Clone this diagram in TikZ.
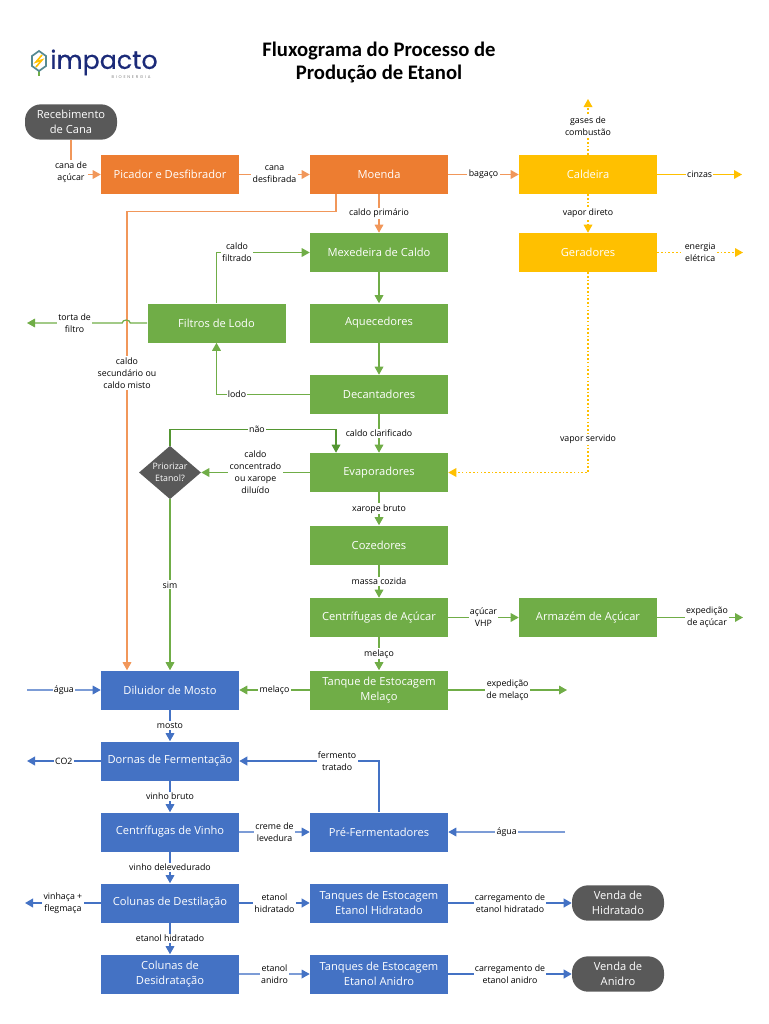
\documentclass[tikz,border=0pt]{standalone}
\usepackage{fontspec}
\setmainfont{Open Sans}
\newfontfamily\titlefont{Carlito}
\newfontfamily\logofont[FakeBold=0.5]{Poppins}
\newfontfamily\logosubfont[LetterSpace=45]{Poppins}
\usetikzlibrary{
    arrows.meta,
    positioning,
    shapes.geometric
}
\definecolor{caneorange}{RGB}{237,125,49}
\definecolor{steamyellow}{RGB}{255,192,0}
\definecolor{juicegreen}{RGB}{112,173,71}
\definecolor{wineblue}{RGB}{68,114,196}
\definecolor{darkgreen}{RGB}{84,150,50}
\definecolor{stategray}{RGB}{89,89,89}
\definecolor{logoblue}{RGB}{27,42,120}

\begin{document}
\begin{tikzpicture}[
    x=0.75pt, y=-0.75pt,
    every node/.style={font=\fontsize{6.6}{9}\selectfont},
    boxnode/.style={minimum width=103.5pt, minimum height=29.25pt, inner sep=0pt,
        align=center, text=white, font=\fontsize{8.35}{11.2}\selectfont},
    orangebox/.style={boxnode, fill=caneorange},
    yellowbox/.style={boxnode, fill=steamyellow},
    greenbox/.style={boxnode, fill=juicegreen},
    bluebox/.style={boxnode, fill=wineblue},
    pill/.style={boxnode, fill=stategray, rounded corners=12pt,
        minimum width=69pt, minimum height=26.5pt},
    lbl/.style={fill=white, inner sep=1pt, align=center, text=black},
    arrow/.style={-{Triangle[length=6pt, width=6.5pt]}, line width=0.9pt},
    orangeline/.style={arrow, caneorange!80!white},
    yellowline/.style={arrow, steamyellow},
    yellowdot/.style={arrow, steamyellow, dash pattern=on 1.2pt off 1.6pt},
    greenline/.style={arrow, juicegreen},
    blueline/.style={arrow, wineblue},
    bluelight/.style={-{Triangle[length=6pt, width=6.5pt, color=wineblue]}, line width=0.9pt, wineblue!70!white},
    bluethick/.style={arrow, wineblue, line width=1.3pt}
]
    \useasboundingbox (0,0) rectangle (768,1024);

    % Title and logo
    \node[font=\titlefont\bfseries\fontsize{15.5}{17.5}\selectfont, align=center] (title) at (379,62.5)
        {Fluxograma do Processo de\\Produção de Etanol};
    \draw[juicegreen, line width=1.1pt] (39,66) -- (39,76);
    \draw[wineblue!60!juicegreen, line width=1.3pt, fill=white]
        (39,51) -- (46,56) -- (46,66) -- (39,71) -- (32,66) -- (32,56) -- cycle;
    \draw[steamyellow, line width=1.2pt] (42,55) -- (36,62) -- (42,60) -- (36,67);
    \node[font=\logofont\fontsize{19}{19}\selectfont, text=logoblue, inner sep=0pt] (logo) at (104,62.5) {impacto};
    \node[font=\logosubfont\fontsize{3}{3}\selectfont, text=gray, inner sep=0pt] (logosub) at (131,77.5)
        {BIOENERGIA};

    % Cane preparation
    \node[pill] (receb) at (71,122) {Recebimento\\de Cana};
    \node[orangebox] (picador) at (170,174.5) {Picador e Desfibrador};
    \node[orangebox] (moenda) at (379,174.5) {Moenda};

    % Steam and power
    \node[yellowbox] (caldeira) at (588,174.5) {Caldeira};
    \node[yellowbox] (geradores) at (588,252.5) {Geradores};

    % Juice treatment and sugar
    \node[greenbox] (mexedeira) at (379,252.5) {Mexedeira de Caldo};
    \node[greenbox] (filtros) at (216.5,323) {Filtros de Lodo};
    \node[greenbox] (aquec) at (379,323) {Aquecedores};
    \node[greenbox] (decant) at (379,394.5) {Decantadores};
    \node[greenbox] (evap) at (379,472.5) {Evaporadores};
    \node[greenbox] (cozed) at (379,545) {Cozedores};
    \node[greenbox] (centacucar) at (379,617.5) {Centrífugas de Açúcar};
    \node[greenbox] (armazem) at (588,617.5) {Armazém de Açúcar};
    \node[greenbox] (tanquemel) at (379,690) {Tanque de Estocagem\\Melaço};
    \node[diamond, fill=stategray, text=white, inner sep=0pt, align=center,
        minimum width=46.5pt, minimum height=40pt, aspect=1.17] (prior) at (170,472.5)
        {Priorizar\\Etanol?};

    % Fermentation and distillation
    \node[bluebox] (diluidor) at (170,690) {Diluidor de Mosto};
    \node[bluebox] (dornas) at (170,761) {Dornas de Fermentação};
    \node[bluebox] (centvinho) at (170,832) {Centrífugas de Vinho};
    \node[bluebox] (prefer) at (379,832) {Pré-Fermentadores};
    \node[bluebox] (coldest) at (170,903) {Colunas de Destilação};
    \node[bluebox] (tanqhid) at (379,903) {Tanques de Estocagem\\Etanol Hidratado};
    \node[bluebox] (coldes) at (170,974) {Colunas de\\Desidratação};
    \node[bluebox] (tanqani) at (379,974) {Tanques de Estocagem\\Etanol Anidro};
    \node[pill] (vendahid) at (618,903) {Venda de\\Hidratado};
    \node[pill] (vendaani) at (618,974) {Venda de\\Anidro};

    % Free ends
    \coordinate (gasesend) at (588,99);
    \coordinate (cinzasend) at (742,174.5);
    \coordinate (energiaend) at (743,252.5);
    \coordinate (tortaend) at (27,323);
    \coordinate (expacuend) at (743,617.5);
    \coordinate (expmelend) at (567,690);
    \coordinate (aguaone) at (27,690);
    \coordinate (co2end) at (27,761);
    \coordinate (aguatwo) at (565,832);
    \coordinate (vinhaend) at (25,903);

    % Orange connectors
    \draw[orangeline] (receb.south) |- (picador.west)
        node[lbl, pos=0.5, yshift=2pt] (lcana) {cana de\\açúcar};
    \draw[orangeline] (picador) -- (moenda) node[lbl, midway] (ldesf) {cana\\desfibrada};
    \draw[orangeline] (moenda) -- (caldeira) node[lbl, midway] (lbag) {bagaço};
    \draw[orangeline] (moenda) -- (mexedeira) node[lbl, midway] (lprim) {caldo primário};
    \draw[orangeline] ([xshift=-32.25pt]moenda.south) -- ++(0,17) -| ([xshift=-32.25pt]diluidor.north)
        node[lbl, pos=0.676] (lsec) {caldo\\secundário ou\\caldo misto};

    % Yellow connectors
    \draw[yellowdot] (caldeira) -- (gasesend) node[lbl, pos=0.52] (lgases) {gases de\\combustão};
    \draw[yellowline] (caldeira) -- (cinzasend) node[lbl, midway] (lcinzas) {cinzas};
    \draw[yellowdot] (caldeira) -- (geradores) node[lbl, midway] (lvapdir) {vapor direto};
    \draw[yellowdot] (geradores) -- (energiaend) node[lbl, midway] (lenergia) {energia\\elétrica};
    \draw[yellowdot] (geradores) |- (evap) node[lbl, pos=0.4175] (lvapser) {vapor servido};

    % Green connectors
    \draw[greenline] (filtros) |- (mexedeira) node[lbl, pos=0.61] (lfiltr) {caldo\\filtrado};
    \draw[greenline] (mexedeira) -- (aquec);
    \draw[greenline] (aquec) -- (decant);
    \draw[greenline] (decant) -| (filtros) node[lbl, pos=0.39] (llodo) {lodo};
    \draw[greenline] (filtros.west) -- ++(-17,0) arc[start angle=0, end angle=-180, x radius=4, y radius=3]
        -- (tortaend) node[lbl, pos=0.5] (ltorta) {torta de\\filtro};
    \draw[greenline] (decant) -- (evap) node[lbl, midway] (lclar) {caldo clarificado};
    \draw[greenline] (evap) -- (prior) node[lbl, midway] (lconc) {caldo\\concentrado\\ou xarope\\diluído};
    \draw[arrow, darkgreen] (prior.north) -- ++(0,-16) -| ([xshift=-32.25pt]evap.north)
        node[lbl, pos=0.262] (lnao) {não};
    \draw[greenline] (prior) -- (diluidor) node[lbl, pos=0.5] (lsim) {sim};
    \draw[greenline] (evap) -- (cozed) node[lbl, midway] (lxar) {xarope bruto};
    \draw[greenline] (cozed) -- (centacucar) node[lbl, midway] (lmassa) {massa cozida};
    \draw[greenline] (centacucar) -- (armazem) node[lbl, midway] (lvhp) {açúcar\\VHP};
    \draw[greenline] (armazem) -- (expacuend) node[lbl, pos=0.58] (lexpac) {expedição\\de açúcar};
    \draw[greenline] (centacucar) -- (tanquemel) node[lbl, midway] (lmel) {melaço};
    \draw[greenline] (tanquemel) -- (diluidor) node[lbl, midway] (lmeltwo) {melaço};
    \draw[greenline] (tanquemel) -- (expmelend) node[lbl, pos=0.5] (lexpmel) {expedição\\de melaço};

    % Blue connectors
    \draw[bluelight] (aguaone) -- (diluidor) node[lbl, pos=0.5] (lagua) {água};
    \draw[blueline] (diluidor) -- (dornas) node[lbl, midway] (lmosto) {mosto};
    \draw[bluethick] (dornas) -- (co2end) node[lbl, midway] (lco) {CO2};
    \draw[bluethick] (prefer) |- (dornas) node[lbl, pos=0.65] (lferm) {fermento\\tratado};
    \draw[blueline] (dornas) -- (centvinho) node[lbl, midway] (lvinho) {vinho bruto};
    \draw[bluelight] (centvinho) -- (prefer) node[lbl, midway] (lcreme) {creme de\\levedura};
    \draw[bluelight] (aguatwo) -- (prefer) node[lbl, midway] (laguatwo) {água};
    \draw[blueline] (centvinho) -- (coldest) node[lbl, midway] (ldelev) {vinho delevedurado};
    \draw[bluethick] (coldest) -- (vinhaend) node[lbl, midway] (lvinha) {vinhaça +\\flegmaça};
    \draw[bluethick] (coldest) -- (tanqhid) node[lbl, midway] (lhid) {etanol\\hidratado};
    \draw[bluethick] (tanqhid) -- (vendahid) node[lbl, midway] (lcarhid) {carregamento de\\etanol hidratado};
    \draw[blueline] (coldest) -- (coldes) node[lbl, midway] (lhidtwo) {etanol hidratado};
    \draw[bluelight] (coldes) -- (tanqani) node[lbl, midway] (lani) {etanol\\anidro};
    \draw[bluethick] (tanqani) -- (vendaani) node[lbl, midway] (lcarani) {carregamento de\\etanol anidro};

\end{tikzpicture}
\end{document}
